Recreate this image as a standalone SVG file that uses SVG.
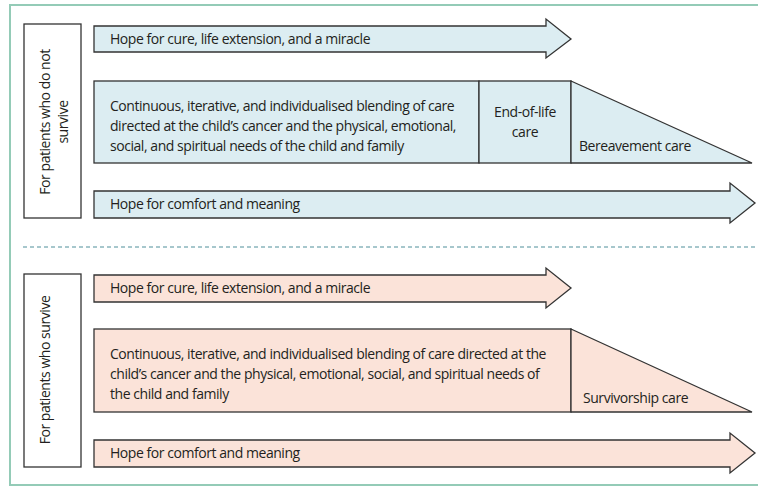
<svg xmlns="http://www.w3.org/2000/svg" width="758" height="487" viewBox="0 0 758 487">
  <style>
    text { font-family: "Open Sans", "Noto Sans", "DejaVu Sans", sans-serif; font-size: 14px; letter-spacing: -0.45px; fill: #231f20; }
    .shape { stroke: #333333; stroke-width: 1.3; stroke-linejoin: miter; }
    .blue { fill: #dcedf2; }
    .pink { fill: #fbe3d9; }
    .label { fill: #ffffff; stroke: #333333; stroke-width: 1.3; }
    .frame { fill: none; stroke: #94cbb7; stroke-width: 2; }
    .divider { fill: none; stroke: #4f8f9a; stroke-width: 1; stroke-dasharray: 4 3; }
    .mid { text-anchor: middle; }
  </style>

  <!-- outer frame: open on the right -->
  <polyline class="frame" points="758,5 10,5 10,485 758,485"/>

  <!-- separator between the two scenarios -->
  <line class="divider" x1="23" y1="247" x2="758" y2="247"/>

  <!-- ===== Patients who do not survive ===== -->
  <g id="label-not-survive">
    <rect class="label" x="24" y="24" width="57" height="194"/>
    <text class="mid" transform="translate(50,122) rotate(-90)">For patients who do not</text>
    <text class="mid" transform="translate(68,122) rotate(-90)">survive</text>
  </g>

  <g id="hope-cure-1">
    <polygon class="shape blue" points="94,26 546,26 546,19 571,39 546,58 546,52 94,52"/>
    <text x="110" y="44">Hope for cure, life extension, and a miracle</text>
  </g>

  <g id="care-1">
    <rect class="shape blue" x="94" y="81" width="385" height="82"/>
    <text x="110" y="111">Continuous, iterative, and individualised blending of care</text>
    <text x="110" y="131">directed at the child’s cancer and the physical, emotional,</text>
    <text x="110" y="151">social, and spiritual needs of the child and family</text>
  </g>

  <g id="end-of-life">
    <rect class="shape blue" x="479" y="81" width="92" height="82"/>
    <text class="mid" x="525" y="117">End-of-life</text>
    <text class="mid" x="525" y="137">care</text>
  </g>

  <g id="bereavement">
    <polygon class="shape blue" points="571,81 752,163 571,163"/>
    <text x="579" y="151">Bereavement care</text>
  </g>

  <g id="hope-comfort-1">
    <polygon class="shape blue" points="94,191 730,191 730,183 755,203 730,223 730,218 94,218"/>
    <text x="110" y="209">Hope for comfort and meaning</text>
  </g>

  <!-- ===== Patients who survive ===== -->
  <g id="label-survive">
    <rect class="label" x="24" y="274" width="57" height="193"/>
    <text class="mid" transform="translate(50,370) rotate(-90)">For patients who survive</text>
  </g>

  <g id="hope-cure-2">
    <polygon class="shape pink" points="94,275 546,275 546,268 571,288 546,308 546,302 94,302"/>
    <text x="110" y="293">Hope for cure, life extension, and a miracle</text>
  </g>

  <g id="care-2">
    <rect class="shape pink" x="94" y="329" width="477" height="83"/>
    <text x="110" y="359">Continuous, iterative, and individualised blending of care directed at the</text>
    <text x="110" y="379">child’s cancer and the physical, emotional, social, and spiritual needs of</text>
    <text x="110" y="399">the child and family</text>
  </g>

  <g id="survivorship">
    <polygon class="shape pink" points="571,329 752,412 571,412"/>
    <text x="583" y="403">Survivorship care</text>
  </g>

  <g id="hope-comfort-2">
    <polygon class="shape pink" points="94,440 730,440 730,433 755,453 730,473 730,467 94,467"/>
    <text x="110" y="458">Hope for comfort and meaning</text>
  </g>
</svg>
